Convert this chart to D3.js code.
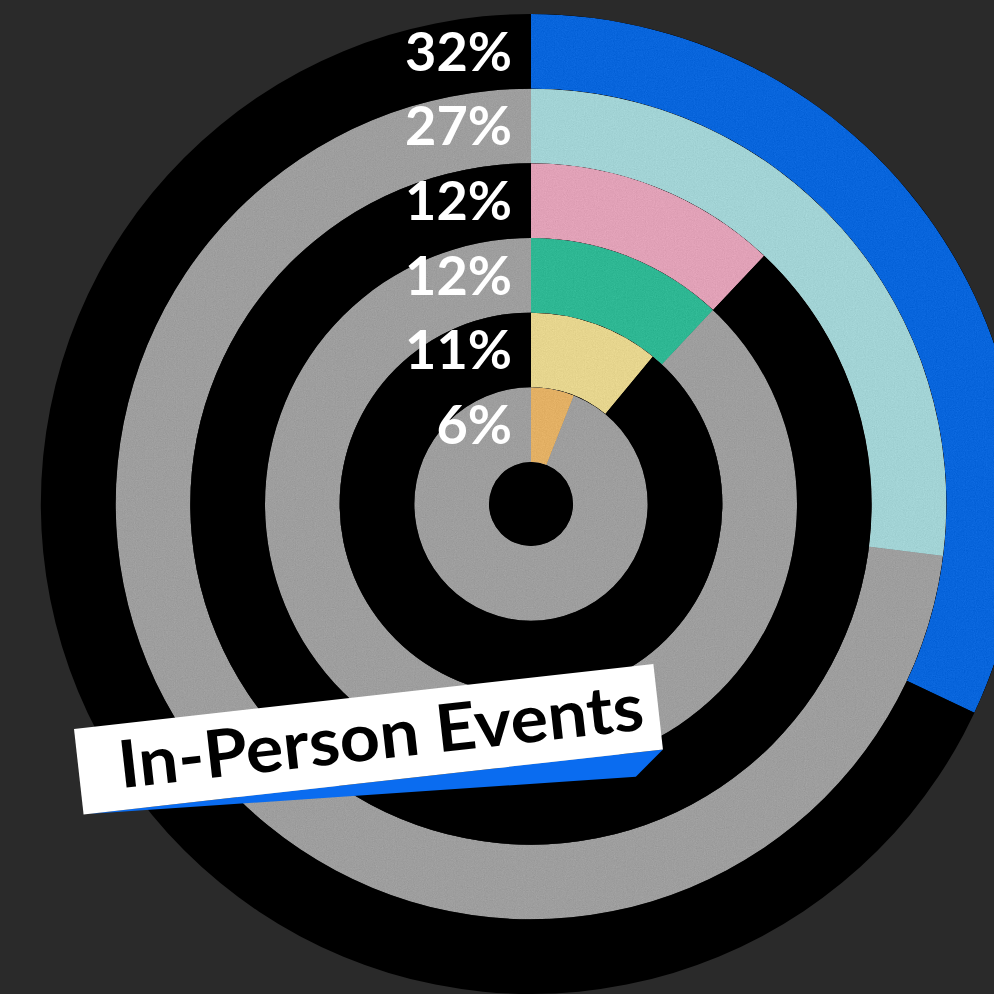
<!DOCTYPE html>
<html><head><meta charset="utf-8">
<script src="https://cdn.jsdelivr.net/npm/d3@7"></script>
<style>html,body{margin:0;padding:0;background:#2a2a2a;}svg{display:block;}</style>
</head><body>
<script>
// Data (outer ring first)
const categories = ["A","B","C","D","E","F"];
const values = [32, 27, 12, 12, 11, 6];
const labels = ["32%","27%","12%","12%","11%","6%"];
const colors = ["#0865dc","#a2d3d5","#e1a1b7","#2eb793","#e6d58e","#e3b064"];
const trackColors = ["#000000","#9e9e9e","#000000","#9e9e9e","#000000","#9e9e9e"];
const title = "In-Person Events";

const W = 994, H = 994, cx = 531, cy = 504;
const svg = d3.select("body").append("svg").attr("width", W).attr("height", H);
svg.append("rect").attr("width", W).attr("height", H).attr("fill", "#2a2a2a");

const defs = svg.append("defs");
const f = defs.append("filter").attr("id","grain").attr("x",0).attr("y",0).attr("width","100%").attr("height","100%")
  .attr("color-interpolation-filters","sRGB");
f.append("feTurbulence").attr("type","fractalNoise").attr("baseFrequency",0.9).attr("numOctaves",2).attr("seed",3).attr("result","noise");
f.append("feColorMatrix").attr("in","noise").attr("type","matrix")
  .attr("values","0.33 0.33 0.33 0 0  0.33 0.33 0.33 0 0  0.33 0.33 0.33 0 0  0 0 0 0 1").attr("result","gn");
f.append("feComposite").attr("in","SourceGraphic").attr("in2","gn").attr("operator","arithmetic")
  .attr("k1",0).attr("k2",1).attr("k3",0.14).attr("k4",-0.07).attr("result","mix");
f.append("feComposite").attr("in","mix").attr("in2","SourceGraphic").attr("operator","in");

const angle = d3.scaleLinear().domain([0, 100]).range([0, 2 * Math.PI]);
const radius = d3.scaleBand().domain(categories.slice().reverse()).range([42, 490]).padding(0);

const g = svg.append("g").attr("transform", `translate(${cx},${cy})`);
const arc = d3.arc()
  .innerRadius(d => radius(d.cat))
  .outerRadius(d => radius(d.cat) + radius.bandwidth());

const rows = categories.map((c, i) => ({cat: c, value: values[i], label: labels[i], color: colors[i], track: trackColors[i]}));

// center disc
g.append("circle").attr("r", radius.range()[0]).attr("fill", "#000");

// tracks
g.selectAll("path.track").data(rows).join("path").attr("class","track")
  .attr("d", d => arc({...d, startAngle: 0, endAngle: 2 * Math.PI}))
  .attr("fill", d => d.track)
  .attr("filter", d => d.track === "#000000" ? null : "url(#grain)");

// value arcs
g.selectAll("path.bar").data(rows).join("path").attr("class","bar")
  .attr("d", d => arc({...d, startAngle: 0, endAngle: angle(d.value)}))
  .attr("fill", d => d.color)
  .attr("filter", "url(#grain)");

// labels
g.selectAll("text.lab").data(rows).join("text").attr("class","lab")
  .attr("x", -19)
  .attr("y", d => -(radius(d.cat) + radius.bandwidth() / 2))
  .attr("dy", "0.36em")
  .attr("text-anchor", "end")
  .attr("fill", "#fff")
  .attr("font-family", "Lato, 'Open Sans', sans-serif")
  .attr("font-weight", 700)
  .attr("font-size", 54)
  .text(d => d.label);

// title banner
const tg = svg.append("g").attr("transform", "translate(74,729) rotate(-6.4)");
tg.append("path").attr("d", "M4,86 L583,86 L553,110 Z").attr("fill", "#0a6cf0");
tg.append("rect").attr("x", 0).attr("y", 0).attr("width", 583).attr("height", 86).attr("fill", "#fff");
tg.append("text").attr("x", 40).attr("y", 64)
  .attr("font-family", "Lato, 'Open Sans', sans-serif")
  .attr("font-weight", 700).attr("font-size", 66).attr("fill", "#000")
  .attr("textLength", 528).attr("lengthAdjust", "spacingAndGlyphs")
  .text(title);
</script>
</body></html>
